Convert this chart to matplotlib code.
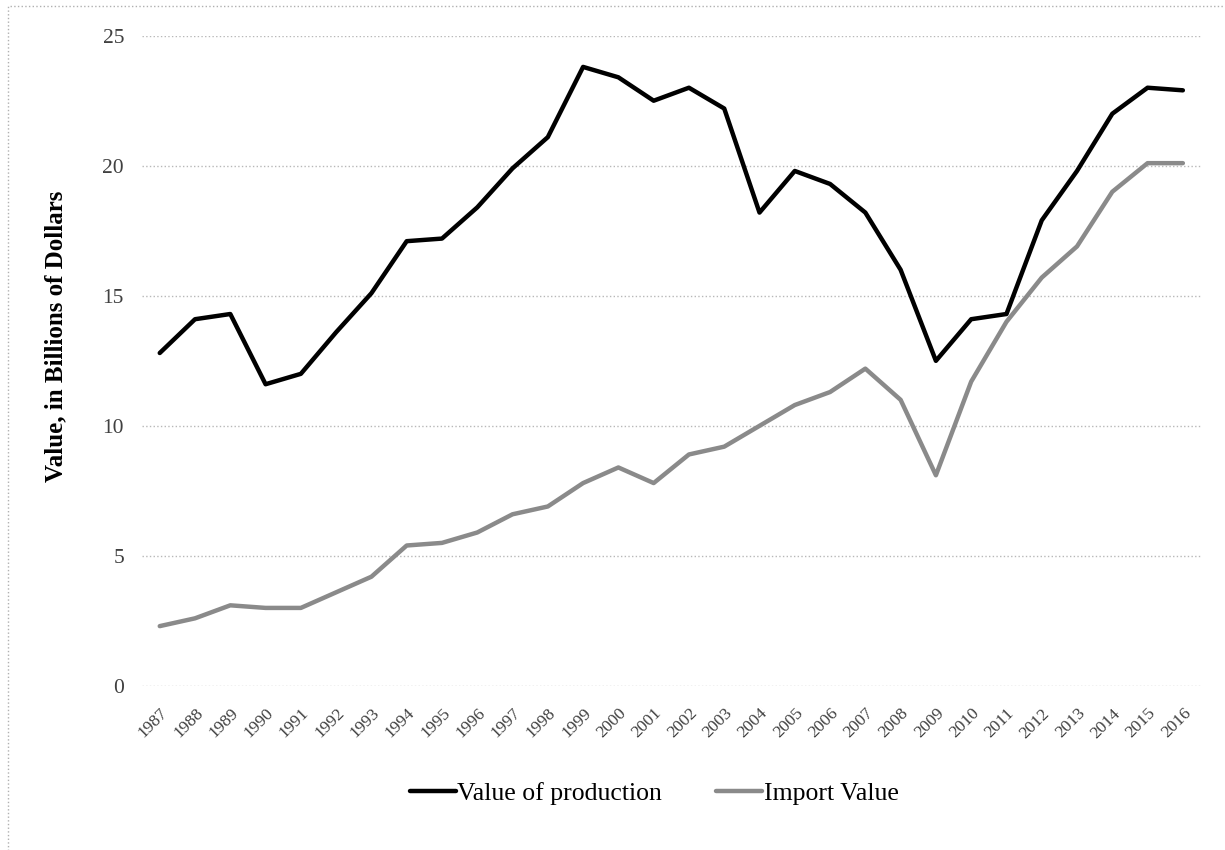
import matplotlib

matplotlib.use("Agg")

import matplotlib.pyplot as plt
import matplotlib.transforms as mtransforms
from matplotlib.patches import Rectangle

years = list(range(1987, 2017))

production = [
    12.8, 14.1, 14.3, 11.6, 12.0, 13.6, 15.1, 17.1, 17.2, 18.4,
    19.9, 21.1, 23.8, 23.4, 22.5, 23.0, 22.2, 18.2, 19.8, 19.3,
    18.2, 16.0, 12.5, 14.1, 14.3, 17.9, 19.8, 22.0, 23.0, 22.9,
]

imports = [
    2.3, 2.6, 3.1, 3.0, 3.0, 3.6, 4.2, 5.4, 5.5, 5.9,
    6.6, 6.9, 7.8, 8.4, 7.8, 8.9, 9.2, 10.0, 10.8, 11.3,
    12.2, 11.0, 8.1, 11.7, 14.0, 15.7, 16.9, 19.0, 20.1, 20.1,
]

y_ticks = [0, 5, 10, 15, 20, 25]

plt.rcParams["font.family"] = ["Liberation Serif", "DejaVu Serif"]

fig = plt.figure(figsize=(12.25, 8.5), dpi=100)
ax = fig.add_axes([0.116, 0.193, 0.864, 0.765])

x = list(range(len(years)))

ax.plot(x, production, color="black", linewidth=3.2, label="Value of production",
        solid_joinstyle="round", solid_capstyle="round")
ax.plot(x, imports, color="#8a8a8a", linewidth=3.2, label="Import Value",
        solid_joinstyle="round", solid_capstyle="round")

ax.set_xlim(-0.5, len(years) - 0.5)
ax.set_ylim(0, 25)
ax.set_yticks(y_ticks)
ax.set_yticklabels([str(t) for t in y_ticks], fontsize=15.5, color="#404040")
ax.set_xticks(x)
ax.set_xticklabels([str(y) for y in years], fontsize=12.5, color="#404040",
                   rotation=45, ha="right", va="top", rotation_mode="anchor")

# nudge the rotated year labels so their ends sit under the points
shift = mtransforms.ScaledTranslation(-6 / 100, 0, fig.dpi_scale_trans)
for label in ax.get_xticklabels():
    label.set_transform(label.get_transform() + shift)

ax.tick_params(axis="both", length=0)
ax.tick_params(axis="y", pad=13)
ax.tick_params(axis="x", pad=14)

for spine in ax.spines.values():
    spine.set_visible(False)

ax.grid(axis="y", color="#b8b8b8", linestyle=":", linewidth=1.0)
ax.set_axisbelow(True)

ax.set_ylabel("Value, in Billions of Dollars", fontsize=18, fontweight="bold")
ax.yaxis.set_label_coords(-0.071, 0.538)

fig.legend(loc="center", bbox_to_anchor=(0.534, 0.067), ncol=2, frameon=False,
           fontsize=18.5, handlelength=1.8, handletextpad=0.06, columnspacing=2.1)

# dotted frame around the chart, cut off at the right and bottom
fig.patches.append(Rectangle((0.0065, -0.05), 1.05, 1.043, transform=fig.transFigure,
                             fill=False, edgecolor="#b0b0b0", linestyle=":",
                             linewidth=1.0))

plt.savefig("out.png", dpi=100)
plt.close()
